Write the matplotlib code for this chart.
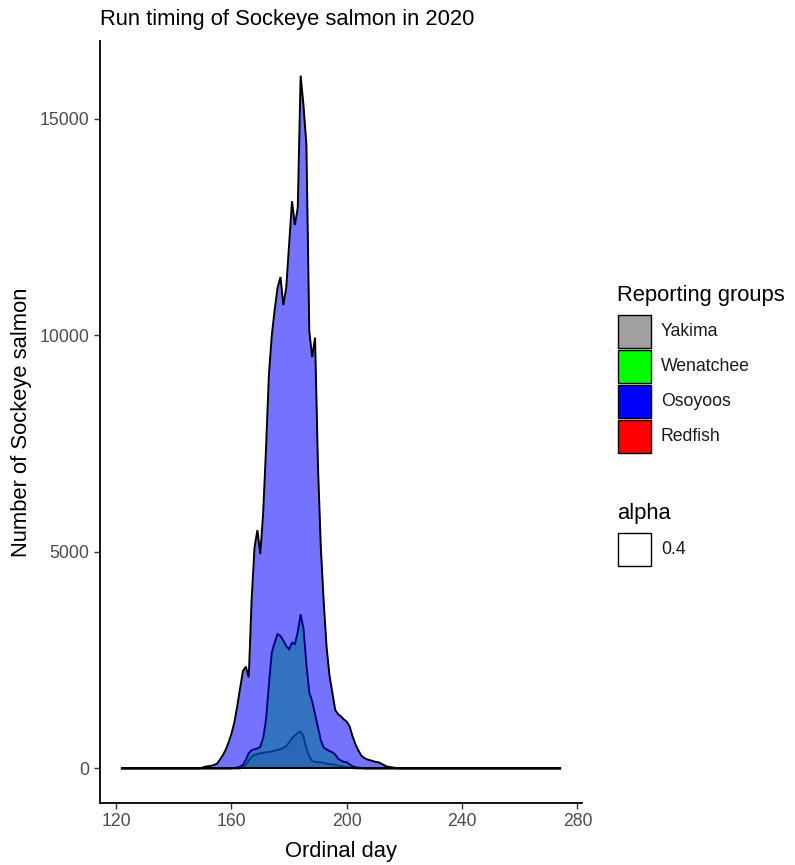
import numpy as np
import matplotlib
matplotlib.use("Agg")
import matplotlib.pyplot as plt
from matplotlib.patches import Rectangle

plt.rcParams['font.family'] = ['Liberation Sans', 'DejaVu Sans']

# ---------------- data ----------------
days = list(range(122, 275))

yakima = [0] * 42 + [
    20, 80, 180, 270, 310, 330, 350, 360, 370, 380, 390, 410, 430, 440, 470, 510,
    600, 700, 760, 820, 850, 740, 460, 280, 170, 150, 140, 140, 130, 110, 100, 90,
    80, 60, 50, 40, 30, 20, 10] + [0] * 72

wenatchee = [0] * 39 + [
    10, 20, 40, 80, 200, 350, 420, 440, 460, 500, 700, 1130, 1950, 2680, 2910, 3100,
    3060, 2950, 2830, 2750, 2900, 2870, 3150, 3560, 3220, 2400, 1750, 1550, 1250, 950,
    650, 480, 440, 400, 370, 320, 220, 180, 150, 140, 90, 50, 30, 20, 10] + [0] * 69

osoyoos = [0] * 28 + [
    20, 40, 50, 60, 80, 110, 200, 300, 430, 600, 800, 1060, 1430, 1850, 2250, 2350,
    2100, 3900, 5100, 5500, 4950, 5900, 7400, 9100, 10000, 10600, 11100, 11350, 10700,
    11100, 12100, 13100, 12550, 12950, 16000, 15300, 14400, 10100, 9500, 9950, 7000,
    5100, 3850, 2800, 2150, 1750, 1350, 1250, 1200, 1130, 1080, 970, 740, 560, 420,
    300, 240, 210, 190, 170, 150, 140, 110, 70, 40, 30, 20, 10] + [0] * 57

redfish = [0] * 153

groups = ["Yakima", "Wenatchee", "Osoyoos", "Redfish"]
group_values = [yakima, wenatchee, osoyoos, redfish]
group_colors = ["#A0A0A0", "#00FF00", "#0000FF", "#FF0000"]
alpha_label = "0.4"

x_ticks = [120, 160, 200, 240, 280]
y_ticks = [0, 5000, 10000, 15000]

# ---------------- figure ----------------
W, H = 795, 865
fig = plt.figure(figsize=(W / 100, H / 100), dpi=100)

def fx(px):
    return px / W

def fy(py):
    return 1 - py / H

ax_l, ax_r, ax_t, ax_b = 100, 582, 41, 803
ax = fig.add_axes([fx(ax_l), fy(ax_b), (ax_r - ax_l) / W, (ax_b - ax_t) / H])

FILL_ALPHA = 0.55
for i, (name, vals, col) in enumerate(zip(groups, group_values, group_colors)):
    ax.fill_between(days, 0, vals, color=col, alpha=FILL_ALPHA, linewidth=0,
                    zorder=2 + 2 * i)
    ax.plot(days, vals, color="black", linewidth=1.4, solid_joinstyle="miter",
            zorder=3 + 2 * i)

x0, x1 = min(days), max(days)
xr = x1 - x0
ax.set_xlim(x0 - 0.05 * xr, x1 + 0.05 * xr)
ymax = max(max(v) for v in group_values)
ax.set_ylim(-0.05 * ymax, 1.05 * ymax)

ax.set_xticks(x_ticks)
ax.set_yticks(y_ticks)
ax.set_xticklabels([str(t) for t in x_ticks])
ax.set_yticklabels([str(t) for t in y_ticks])
for s in ["top", "right"]:
    ax.spines[s].set_visible(False)
for s in ["left", "bottom"]:
    ax.spines[s].set_color("black")
    ax.spines[s].set_linewidth(1.3)
ax.tick_params(axis="both", colors="#333333", length=4.5, width=1.0,
               labelsize=12.7, labelcolor="#4D4D4D", pad=3)

fig.text(fx(100), fy(20), "Run timing of Sockeye salmon in 2020",
         ha="left", va="center", fontsize=15.8, color="black")
fig.text(fx((ax_l + ax_r) / 2), fy(851), "Ordinal day",
         ha="center", va="center", fontsize=15.8, color="black")
fig.text(fx(22), fy((ax_t + ax_b) / 2), "Number of Sockeye salmon",
         ha="center", va="center", rotation=90, fontsize=15.8, color="black")

# ---------------- legend ----------------
lg = fig.add_axes([0, 0, 1, 1], facecolor="none")
lg.set_xlim(0, W)
lg.set_ylim(H, 0)
lg.axis("off")

lg.text(617, 296, "Reporting groups", ha="left", va="center", fontsize=15.8)
key_x, key_w = 617.5, 33
for i, (name, col) in enumerate(zip(groups, group_colors)):
    ky = 315 + i * 35
    lg.add_patch(Rectangle((key_x, ky), key_w, 33, facecolor=col,
                           edgecolor="black", linewidth=1.0))
    lg.text(661, ky + 16.5, name, ha="left", va="center", fontsize=12.7,
            color="#1a1a1a")

lg.text(617, 513, "alpha", ha="left", va="center", fontsize=15.8)
lg.add_patch(Rectangle((key_x, 533), key_w, 33, facecolor="white",
                       edgecolor="black", linewidth=1.0))
lg.text(661, 549.5, alpha_label, ha="left", va="center", fontsize=12.7,
        color="#1a1a1a")

fig.savefig("out.png", dpi=100)
